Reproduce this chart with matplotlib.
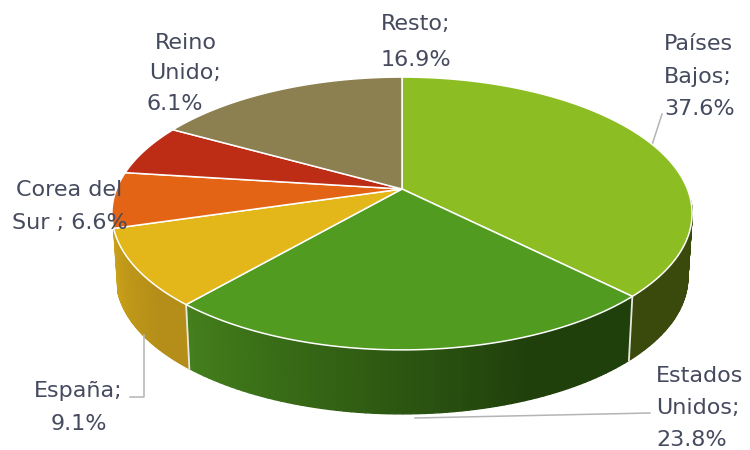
import numpy as np
import matplotlib
matplotlib.use('Agg')
import matplotlib.pyplot as plt
from matplotlib.colors import to_rgb

paises = ['Países Bajos', 'Estados Unidos', 'España', 'Corea del Sur', 'Reino Unido', 'Resto']
valores = [37.6, 23.8, 9.1, 6.6, 6.1, 16.9]
color_top = ['#8cbd23', '#519c20', '#e3b71a', '#e26414', '#bd2c14', '#8c8050']
color_side_a = ['#3a4a0c', '#44801c', '#c9a01a']
color_side_b = ['#3a4a0c', '#1f3f0b', '#b48e18']

# perspective of the disc, in pixels of the 750x450 picture
CX, CY = 402, 189
A, B, P = 285.4, 132, 0.1795
DEPTH = 64
SHRINK = 0.985


def rim(theta):
    u, v = np.sin(theta), -np.cos(theta)
    d = 1 - P * v
    return CX + A * u / d, CY + B * v / d


fig = plt.figure(figsize=(7.5, 4.5), dpi=100)
ax = fig.add_axes([0, 0, 1, 1])
ax.set_xlim(0, 750)
ax.set_ylim(450, 0)
ax.axis('off')

edges = np.cumsum([0] + valores) / sum(valores) * 2 * np.pi
side_lo = np.radians(95)

# side wall first, the top goes over it
# only the first three slices show a wall
for i in range(3):
    t0 = max(edges[i], side_lo)
    t1 = edges[i + 1]
    ts = np.linspace(t0, t1, 70)
    ca, cb = np.array(to_rgb(color_side_a[i])), np.array(to_rgb(color_side_b[i]))
    for j in range(len(ts) - 1):
        # the gradient runs right to left across the slice
        f = min(1, (t1 - ts[j]) / (t1 - t0) / 0.75)
        c = ca + (cb - ca) * f
        x0, y0 = rim(ts[j])
        x1, y1 = rim(ts[j + 1])
        bx0, bx1 = CX + (x0 - CX) * SHRINK, CX + (x1 - CX) * SHRINK
        ax.fill([x0, x1, bx1, bx0], [y0, y1, y1 + DEPTH, y0 + DEPTH],
                facecolor=c, edgecolor=c, lw=1.0, zorder=1)

for e in edges[1:3]:
    x0, y0 = rim(e)
    ax.plot([x0, CX + (x0 - CX) * SHRINK], [y0, y0 + DEPTH],
            color='#e8e8e0', lw=1.3, zorder=2)

for i in range(len(valores)):
    ts = np.linspace(edges[i], edges[i + 1], 120)
    xs, ys = rim(ts)
    ax.fill(np.r_[CX, xs], np.r_[CY, ys], facecolor=color_top[i],
            edgecolor='white', lw=1.1, joinstyle='round', zorder=3)

# leader lines
gris = '#b4b4b4'
ax.plot([652, 662], [145, 114], color=gris, lw=1.1, zorder=2)
ax.plot([415, 650], [418, 413], color=gris, lw=1.1, zorder=2)
ax.plot([144, 144, 130], [335, 397, 397], color=gris, lw=1.1, zorder=2)

# one entry per text line: string, x, baseline, alignment
pct = [f'{v:.1f}%' for v in valores]
etiquetas = [
    ('Países', 664, 50, 'left'), ('Bajos;', 664, 83, 'left'), (pct[0], 664, 115, 'left'),
    ('Estados', 656, 382, 'left'), ('Unidos;', 656, 414, 'left'), (pct[1], 656, 446, 'left'),
    ('España;', 78, 397, 'center'), (pct[2], 79, 430, 'center'),
    ('Corea del', 69, 196, 'center'), ('Sur ; ' + pct[3], 70, 229, 'center'),
    ('Reino', 186, 49, 'center'), ('Unido;', 185, 79, 'center'), (pct[4], 147, 110, 'left'),
    ('Resto;', 416, 30, 'center'), (pct[5], 416, 66, 'center'),
]
for s, x, y, ha in etiquetas:
    ax.text(x, y, s, ha=ha, va='baseline', fontsize=16, family='DejaVu Sans',
            color='#454a5e', zorder=5)

fig.savefig('out.png', dpi=100)
